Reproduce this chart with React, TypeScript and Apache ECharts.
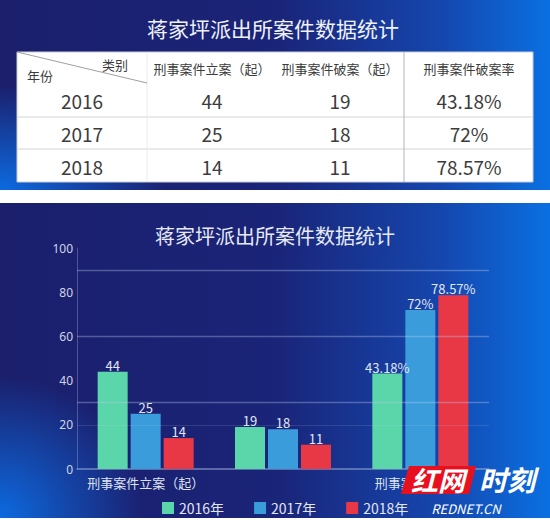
import React, { useEffect, useRef } from "react";
import * as echarts from "echarts";

const TITLE = "蒋家坪派出所案件数据统计";
const years = ["2016", "2017", "2018"];
const categories = ["刑事案件立案（起）", "刑事案件破案（起）", "刑事案件破案率"];
const filed = [44, 25, 14];
const solved = [19, 18, 11];
const rate = [43.18, 72, 78.57];
const yTicks = { min: 0, max: 100, interval: 20 };
const guideLines = [30, 60, 90];
const faintLines = [20];

const COLORS = ["#5bd5aa", "#3b9cdc", "#e93845"];
const CJK = "'Noto Sans CJK SC', 'Noto Sans', sans-serif";

function tableGraphics(): any[] {
  const els: any[] = [];
  const left = 17, right = 533, top = 52, headBottom = 83;
  const rowLines = [83, 117, 149, 182];
  const colCenters = [82, 212, 340, 469];
  els.push({ type: "rect", z: 1, shape: { x: left, y: top, width: right - left, height: 182 - top }, style: { fill: "#ffffff", stroke: "#c9ccd6", lineWidth: 1 } });
  rowLines.slice(1, 3).forEach((y) => {
    els.push({ type: "line", z: 2, shape: { x1: left, y1: y, x2: right, y2: y }, style: { stroke: "#d6d6d6", lineWidth: 1.2 } });
  });
  els.push({ type: "line", z: 2, shape: { x1: 147, y1: top, x2: 147, y2: 182 }, style: { stroke: "#ececec", lineWidth: 1 } });
  els.push({ type: "line", z: 2, shape: { x1: 404, y1: top, x2: 404, y2: 182 }, style: { stroke: "#b5b5b5", lineWidth: 1 } });
  els.push({ type: "line", z: 2, shape: { x1: left, y1: top, x2: 147, y2: headBottom }, style: { stroke: "#a0a0a0", lineWidth: 1 } });
  const txt = (text: string, x: number, y: number, size: number, align = "center") => ({
    type: "text", z: 3, x, y,
    style: { text, fill: "#3c3c3c", fontSize: size, fontFamily: CJK, align, textAlign: align, verticalAlign: "middle", textVerticalAlign: "middle" },
  });
  els.push(txt("类别", 115, 64, 13));
  els.push(txt("年份", 40, 75, 13));
  categories.forEach((c, i) => els.push(txt(c, colCenters[i + 1], 68, 13)));
  const rowCenters = [100, 133, 166];
  years.forEach((yr, r) => {
    els.push(txt(yr, colCenters[0], rowCenters[r], 19));
    els.push(txt(String(filed[r]), colCenters[1], rowCenters[r], 19));
    els.push(txt(String(solved[r]), colCenters[2], rowCenters[r], 19));
    els.push(txt(rate[r] + "%", colCenters[3], rowCenters[r], 19));
  });
  return els;
}

function backgroundGraphics(): any[] {
  const lin = {
    type: "linear", x: 0, y: 0, x2: 1, y2: 0,
    colorStops: [
      { offset: 0, color: "#1b1f6c" },
      { offset: 0.5, color: "#1a2478" },
      { offset: 0.8, color: "#1546ad" },
      { offset: 1, color: "#0a70e2" },
    ],
  };
  const glow = {
    type: "radial", x: 0, y: 1, r: 0.55,
    colorStops: [
      { offset: 0, color: "rgba(12,110,230,0.95)" },
      { offset: 1, color: "rgba(12,110,230,0)" },
    ],
  };
  return [
    { type: "rect", z: 0, shape: { x: 0, y: 0, width: 550, height: 190 }, style: { fill: lin } },
    { type: "rect", z: 0, shape: { x: 0, y: 0, width: 300, height: 190 }, style: { fill: glow } },
    { type: "rect", z: 0, shape: { x: 0, y: 203, width: 550, height: 315 }, style: { fill: lin } },
    { type: "rect", z: 0, shape: { x: 0, y: 260, width: 260, height: 258 }, style: { fill: glow } },
    {
      type: "text", z: 1, x: 273, y: 28,
      style: { text: TITLE, fill: "#eef1fa", fontSize: 21, fontFamily: CJK, align: "center", textAlign: "center", verticalAlign: "middle", textVerticalAlign: "middle" },
    },
  ];
}

function logoGraphics(): any[] {
  const t = (text: string, x: number, y: number, size: number, weight = "bold") => ({
    type: "text", z: 101, x, y,
    style: { text, fill: "#ffffff", fontSize: size, fontWeight: weight, fontStyle: "italic", fontFamily: CJK, align: "center", textAlign: "center", verticalAlign: "middle", textVerticalAlign: "middle" },
  });
  return [
    { type: "polygon", z: 100, shape: { points: [[409, 466], [476, 466], [469, 494], [401, 494]] }, style: { fill: "#e8101f" } },
    t("红网", 438, 479, 27),
    t("时刻", 507, 479, 28),
    t("REDNET.CN", 466, 508, 13, "normal"),
  ];
}

export default function App() {
  const ref = useRef<HTMLDivElement>(null);
  useEffect(() => {
    if (!ref.current) return;
    const chart = echarts.init(ref.current, null, { renderer: "svg" });
    const series = years.map((yr, i) => ({
      type: "bar",
      name: yr + "年",
      data: [filed[i], solved[i], rate[i]],
      barWidth: 30,
      barGap: "10%",
      itemStyle: { color: COLORS[i] },
      label: {
        show: true,
        position: "top",
        distance: 0,
        color: "#e2e7f5",
        fontSize: 13,
        fontFamily: CJK,
        formatter: (p: any) => (p.dataIndex === 2 ? p.value + "%" : String(p.value)),
      },
      markLine: i === 0 ? {
        silent: true,
        symbol: "none",
        label: { show: false },
        data: [
          ...guideLines.map((v) => ({ yAxis: v, lineStyle: { color: "rgba(190,205,240,0.35)", width: 1.3, type: "solid" } })),
          ...faintLines.map((v) => ({ yAxis: v, lineStyle: { color: "rgba(190,205,240,0.15)", width: 1, type: "solid" } })),
        ],
      } : undefined,
    }));
    chart.setOption({
      animation: false,
      backgroundColor: "#ffffff",
      graphic: { elements: [...backgroundGraphics(), ...tableGraphics(), ...logoGraphics()] },
      title: {
        text: TITLE,
        left: "center",
        top: 220,
        textStyle: { color: "#e6eaf6", fontSize: 20, fontWeight: "normal", fontFamily: CJK },
      },
      grid: {
        left: 77, right: 61, top: 248, bottom: 51,
        show: true, borderColor: "rgba(190,205,240,0.18)", borderWidth: 1, backgroundColor: "transparent",
      },
      legend: {
        data: years.map((y) => y + "年"),
        left: 157,
        top: 496,
        itemWidth: 12,
        itemHeight: 12,
        itemGap: 30,
        icon: "rect",
        textStyle: { color: "#e2e7f5", fontSize: 14, fontFamily: CJK },
      },
      xAxis: {
        type: "category",
        data: categories,
        axisLine: { lineStyle: { color: "rgba(150,170,215,0.7)", width: 1.5 } },
        axisTick: { show: false },
        axisLabel: { color: "#dde2f0", fontSize: 13, margin: 7, fontFamily: CJK },
      },
      yAxis: {
        type: "value",
        min: yTicks.min,
        max: yTicks.max,
        interval: yTicks.interval,
        axisLine: { show: true, lineStyle: { color: "rgba(150,170,215,0.4)" } },
        axisTick: { show: false },
        splitLine: { show: false },
        axisLabel: { color: "#cfd5e8", fontSize: 12, margin: 4, fontFamily: "'Noto Sans', sans-serif" },
      },
      series,
    });
    return () => chart.dispose();
  }, []);
  return <div ref={ref} style={{ position: "absolute", left: 0, top: 0, width: 550, height: 520 }} />;
}
